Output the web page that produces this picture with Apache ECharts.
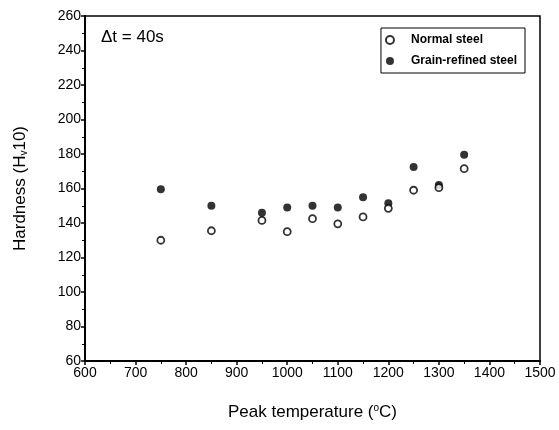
<!DOCTYPE html>
<html><head><meta charset="utf-8">
<script src="https://cdn.jsdelivr.net/npm/echarts@6/dist/echarts.min.js"></script>
<style>html,body{margin:0;padding:0;background:#fff}#c{width:559px;height:430px}</style>
</head><body><div id="c"></div>
<script>
const temps = [750, 850, 950, 1000, 1050, 1100, 1150, 1200, 1250, 1300, 1350];
const normalSteel = [130, 135.5, 141.5, 135, 142.5, 139.5, 143.5, 148.5, 159, 160.5, 171.5];
const grainRefined = [159.5, 150, 146, 149, 150, 149, 155, 151.5, 172.5, 162, 179.5];
const xTicks = [600, 700, 800, 900, 1000, 1100, 1200, 1300, 1400, 1500];
const yTicks = [60, 80, 100, 120, 140, 160, 180, 200, 220, 240, 260];

const F = 'Liberation Sans, Arial, sans-serif';
const chart = echarts.init(document.getElementById('c'));
const pair = (xs, ys) => xs.map((x, i) => [x, ys[i]]);
chart.setOption({
  animation: false,
  backgroundColor: '#fff',
  grid: {left: 85, right: 19, top: 16, bottom: 69, show: true, borderColor: '#000', borderWidth: 1.5},
  xAxis: {
    type: 'value', min: xTicks[0], max: xTicks[xTicks.length - 1], interval: 100,
    axisLine: {onZero: false, lineStyle: {color: '#000', width: 2}},
    axisTick: {show: true, inside: false, length: 4, lineStyle: {color: '#000', width: 1.5}},
    minorTick: {show: true, splitNumber: 2, length: 3, lineStyle: {color: '#000'}},
    splitLine: {show: false},
    axisLabel: {color: '#000', fontFamily: F, fontSize: 14, margin: 5, formatter: v => String(v)},
    name: 'Peak temperature ({sup|o}C)', nameLocation: 'middle', nameGap: 42,
    nameTextStyle: {color: '#000', fontFamily: F, fontSize: 17,
      rich: {sup: {fontSize: 10, verticalAlign: 'top', padding: [0, 0, 8, 0], fontFamily: F, color: '#000'}}}
  },
  yAxis: {
    type: 'value', min: yTicks[0], max: yTicks[yTicks.length - 1], interval: 20,
    axisLine: {onZero: false, lineStyle: {color: '#000', width: 2}},
    axisTick: {show: true, inside: false, length: 4, lineStyle: {color: '#000', width: 1.5}},
    minorTick: {show: true, splitNumber: 2, length: 3, lineStyle: {color: '#000'}},
    splitLine: {show: false},
    axisLabel: {color: '#000', fontFamily: F, fontSize: 14, margin: 4},
    name: 'Hardness (H{sub|v}10)', nameLocation: 'middle', nameGap: 56, nameRotate: 90,
    nameTextStyle: {color: '#000', fontFamily: F, fontSize: 17,
      rich: {sub: {fontSize: 10, padding: [8, 0, 0, 0], fontFamily: F, color: '#000'}}}
  },
  legend: {
    show: true, right: 34, top: 28, orient: 'vertical', itemGap: 9,
    itemWidth: 8, itemHeight: 8, padding: [6, 8, 6, 4],
    borderColor: '#000', borderWidth: 1, backgroundColor: '#fff',
    textStyle: {color: '#000', fontFamily: F, fontSize: 12, fontWeight: 'bold', padding: [0, 0, 0, 12]},
    data: [{name: 'Normal steel', icon: 'circle'}, {name: 'Grain-refined steel', icon: 'circle'}]
  },
  graphic: [{type: 'text', left: 101, top: 29, style: {text: 'Δt = 40s', font: '17px Liberation Sans, Arial, sans-serif', fill: '#000'}}],
  series: [
    {name: 'Normal steel', type: 'scatter', symbol: 'circle', symbolSize: 7,
      itemStyle: {color: '#fff', borderColor: '#000', borderWidth: 1.8},
      data: pair(temps, normalSteel), z: 3},
    {name: 'Grain-refined steel', type: 'scatter', symbol: 'circle', symbolSize: 8,
      itemStyle: {color: '#000', borderColor: '#000', borderWidth: 0},
      data: pair(temps, grainRefined), z: 2}
  ]
});
</script></body></html>
